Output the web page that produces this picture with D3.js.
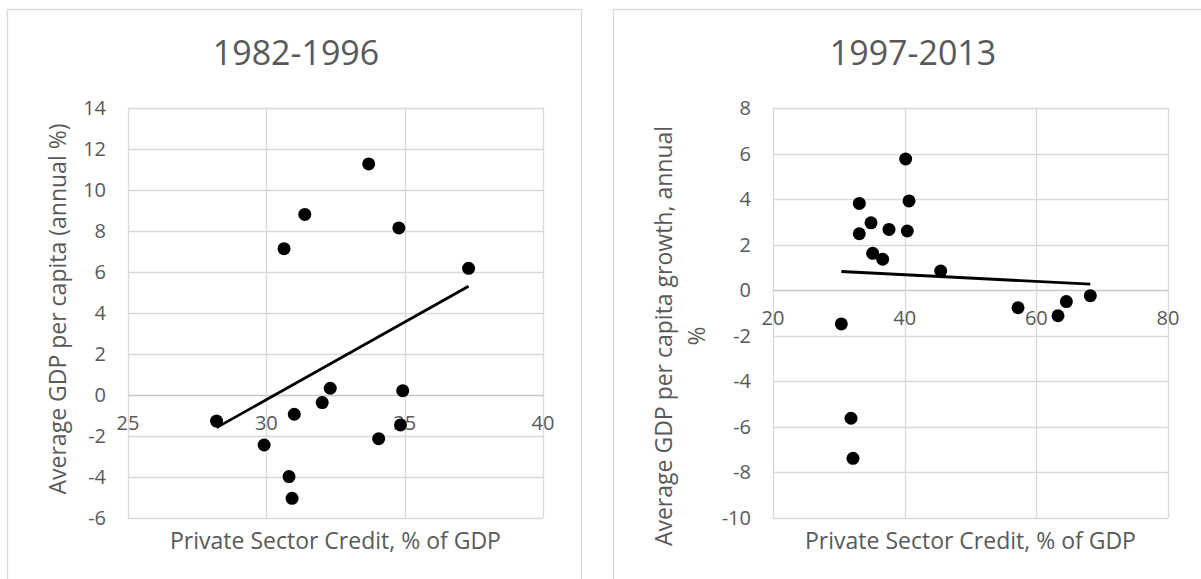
<!DOCTYPE html>
<html>
<head>
<meta charset="utf-8">
<script src="https://cdn.jsdelivr.net/npm/d3@7"></script>
<style>
  body { margin: 0; background: #fff; }
  svg text { font-family: "Open Sans", sans-serif; fill: #595959; }
</style>
</head>
<body>
<svg id="chart" width="1201" height="579"></svg>
<script>
// 1982-1996: private sector credit (% of GDP) vs GDP per capita growth
const creditEarly = [28.2, 29.92, 30.64, 31.39, 31.01, 30.82, 30.93, 32.02, 32.31, 33.70, 34.06, 34.79, 34.93, 34.85, 37.31];
const growthEarly = [-1.27, -2.44, 7.14, 8.81, -0.94, -3.98, -5.04, -0.37, 0.33, 11.27, -2.13, 8.15, 0.21, -1.46, 6.18];

// 1997-2013
const creditLate = [30.38, 31.85, 32.15, 33.11, 33.11, 34.89, 35.14, 36.66, 37.62, 40.15, 40.66, 40.40, 45.47, 57.22, 63.29, 64.56, 68.20];
const growthLate = [-1.48, -5.62, -7.38, 3.81, 2.48, 2.96, 1.62, 1.36, 2.67, 5.76, 3.92, 2.60, 0.84, -0.77, -1.12, -0.50, -0.24];

const xTicksEarly = [25, 30, 35, 40];
const yTicksEarly = [-6, -4, -2, 0, 2, 4, 6, 8, 10, 12, 14];
const xTicksLate = [20, 40, 60, 80];
const yTicksLate = [-10, -8, -6, -4, -2, 0, 2, 4, 6, 8];

const svg = d3.select('#chart');

/**
 * Least squares line through the points
 */
function fitLine(xs, ys) {
  const mx = d3.mean(xs);
  const my = d3.mean(ys);
  const sxy = d3.sum(xs, (x, i) => (x - mx) * (ys[i] - my));
  const sxx = d3.sum(xs, (x) => (x - mx) * (x - mx));
  const slope = sxy / sxx;
  const [x0, x1] = d3.extent(xs);
  return [[x0, my + slope * (x0 - mx)], [x1, my + slope * (x1 - mx)]];
}

function drawPanel(p) {
  const g = svg.append('g');

  // chart frame
  g.append('rect')
    .attr('x', p.frame[0])
    .attr('y', p.frame[1])
    .attr('width', p.frame[2])
    .attr('height', p.frame[3])
    .attr('fill', 'none')
    .attr('stroke', '#d9d9d9')
    .attr('stroke-width', 1.3);

  const x = d3.scaleLinear().domain(d3.extent(p.xTicks)).range([p.left, p.right]);
  const y = d3.scaleLinear().domain(d3.extent(p.yTicks)).range([p.bottom, p.top]);

  // gridlines
  g.append('g')
    .selectAll('line')
    .data(p.yTicks)
    .join('line')
      .attr('x1', p.left)
      .attr('x2', p.right)
      .attr('y1', (d) => Math.round(y(d)) + 0.5)
      .attr('y2', (d) => Math.round(y(d)) + 0.5)
      .attr('stroke', (d) => (d === 0 ? '#c8c8c8' : '#d9d9d9'))
      .attr('stroke-width', 1.3);
  g.append('g')
    .selectAll('line')
    .data(p.xTicks)
    .join('line')
      .attr('x1', (d) => Math.round(x(d)) + 0.5)
      .attr('x2', (d) => Math.round(x(d)) + 0.5)
      .attr('y1', p.top)
      .attr('y2', p.bottom)
      .attr('stroke', '#d9d9d9')
      .attr('stroke-width', 1.3);

  // y tick labels
  g.append('g')
    .selectAll('text')
    .data(p.yTicks)
    .join('text')
      .attr('x', p.left - 22)
      .attr('y', (d) => y(d))
      .attr('dy', '0.35em')
      .attr('text-anchor', 'end')
      .style('font-size', '20px')
      .text((d) => d);

  // x tick labels sit under the zero line
  g.append('g')
    .selectAll('text')
    .data(p.xTicks)
    .join('text')
      .attr('x', (d) => x(d))
      .attr('y', y(0) + 35)
      .attr('text-anchor', 'middle')
      .style('font-size', '20px')
      .text((d) => d);

  // points
  g.append('g')
    .selectAll('circle')
    .data(p.xs.map((v, i) => [v, p.ys[i]]))
    .join('circle')
      .attr('cx', (d) => x(d[0]))
      .attr('cy', (d) => y(d[1]))
      .attr('r', 6.5)
      .attr('fill', '#000');

  // linear trendline
  g.append('path')
    .attr('d', d3.line().x((d) => x(d[0])).y((d) => y(d[1]))(fitLine(p.xs, p.ys)))
    .attr('stroke', '#000')
    .attr('stroke-width', 2.8)
    .attr('fill', 'none');

  // title
  g.append('text')
    .attr('x', p.titleX)
    .attr('y', 65)
    .attr('text-anchor', 'middle')
    .style('font-size', '34px')
    .text(p.title);

  // x axis title
  g.append('text')
    .attr('x', (p.left + p.right) / 2)
    .attr('y', 549)
    .attr('text-anchor', 'middle')
    .style('font-size', '23px')
    .text('Private Sector Credit, % of GDP');

  // y axis title, one line per entry
  p.yTitle.forEach((line, i) => {
    g.append('text')
      .attr('transform', `translate(${p.yTitleX[i]},${p.yTitleY}) rotate(-90)`)
      .attr('text-anchor', 'middle')
      .attr('dy', '0.35em')
      .style('font-size', '23px')
      .text(line);
  });
}

drawPanel({
  frame: [7.5, 9.5, 574, 620],
  left: 128, right: 543, top: 108, bottom: 518,
  xTicks: xTicksEarly, yTicks: yTicksEarly,
  xs: creditEarly, ys: growthEarly,
  title: '1982-1996', titleX: 296,
  yTitle: ['Average GDP per capita (annual %)'],
  yTitleX: [58], yTitleY: 309,
});

drawPanel({
  frame: [613.5, 9.5, 640, 620],
  left: 773, right: 1168, top: 108, bottom: 518,
  xTicks: xTicksLate, yTicks: yTicksLate,
  xs: creditLate, ys: growthLate,
  title: '1997-2013', titleX: 913,
  yTitle: ['Average GDP per capita growth, annual', '%'],
  yTitleX: [664, 697], yTitleY: 336,
});
</script>
</body>
</html>
